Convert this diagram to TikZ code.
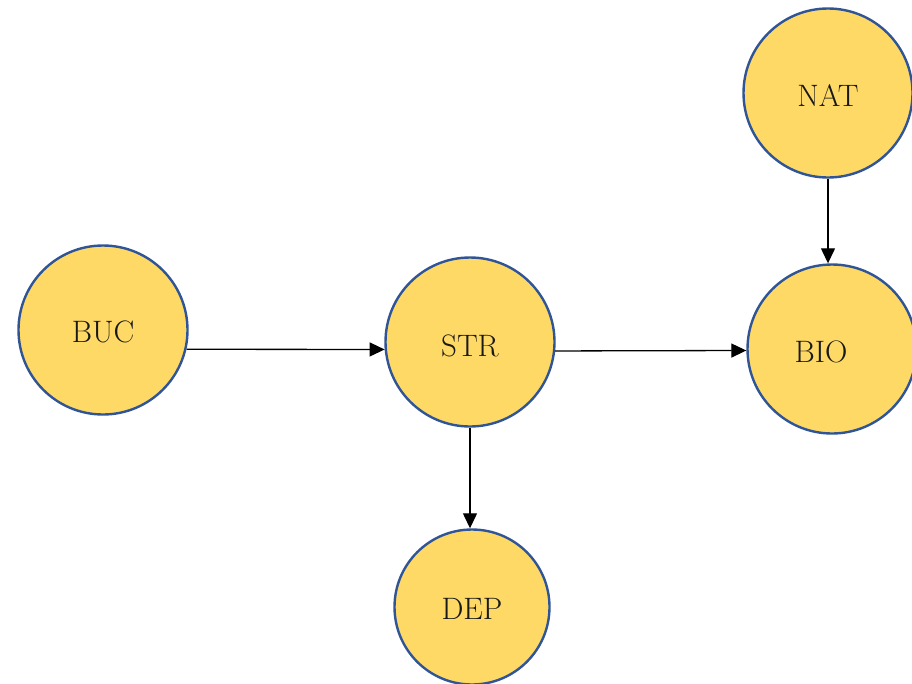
\documentclass[tikz,border=0pt]{standalone}
\usepackage{fontspec}
\usetikzlibrary{arrows.meta,calc}
\definecolor{fillY}{HTML}{FFD966}
\definecolor{edgeB}{HTML}{2F5597}
\begin{document}
\begin{tikzpicture}[x=1pt,y=-1pt,
  lbl/.style={font=\fontsize{31}{36}\selectfont, text=black!90},
  st/.style={circle, draw=edgeB, line width=2.4pt, fill=fillY, inner sep=0pt,
    minimum size=169pt},
  arr/.style={draw=black, line width=1.3pt, -{Triangle[length=15pt,width=14pt]}}]
\useasboundingbox (0,0) rectangle (912,683);
\node[st, label={[lbl, yshift=-3pt]center:NAT}] (NAT) at (828,93) {};
\node[st, label={[lbl, xshift=-11pt, yshift=-3pt]center:BIO}] (BIO) at (832,349) {};
\node[st, label={[lbl, yshift=-2pt]center:BUC}] (BUC) at (103,330) {};
\node[st, label={[lbl, yshift=-4pt]center:STR}] (STR) at (470,342) {};
\node[st, minimum size=155pt, label={[lbl, yshift=-2pt]center:DEP}] (DEP) at (472,607) {};
\draw[arr] (BUC.-13.1) -- (STR.185.1);
\draw[arr] (STR.-6.4) -- (BIO.181.3);
\draw[arr] (STR.south) -- (STR.south |- DEP.north);
\draw[arr] (NAT.south) -- (NAT.south |- BIO.north);
\end{tikzpicture}
\end{document}
